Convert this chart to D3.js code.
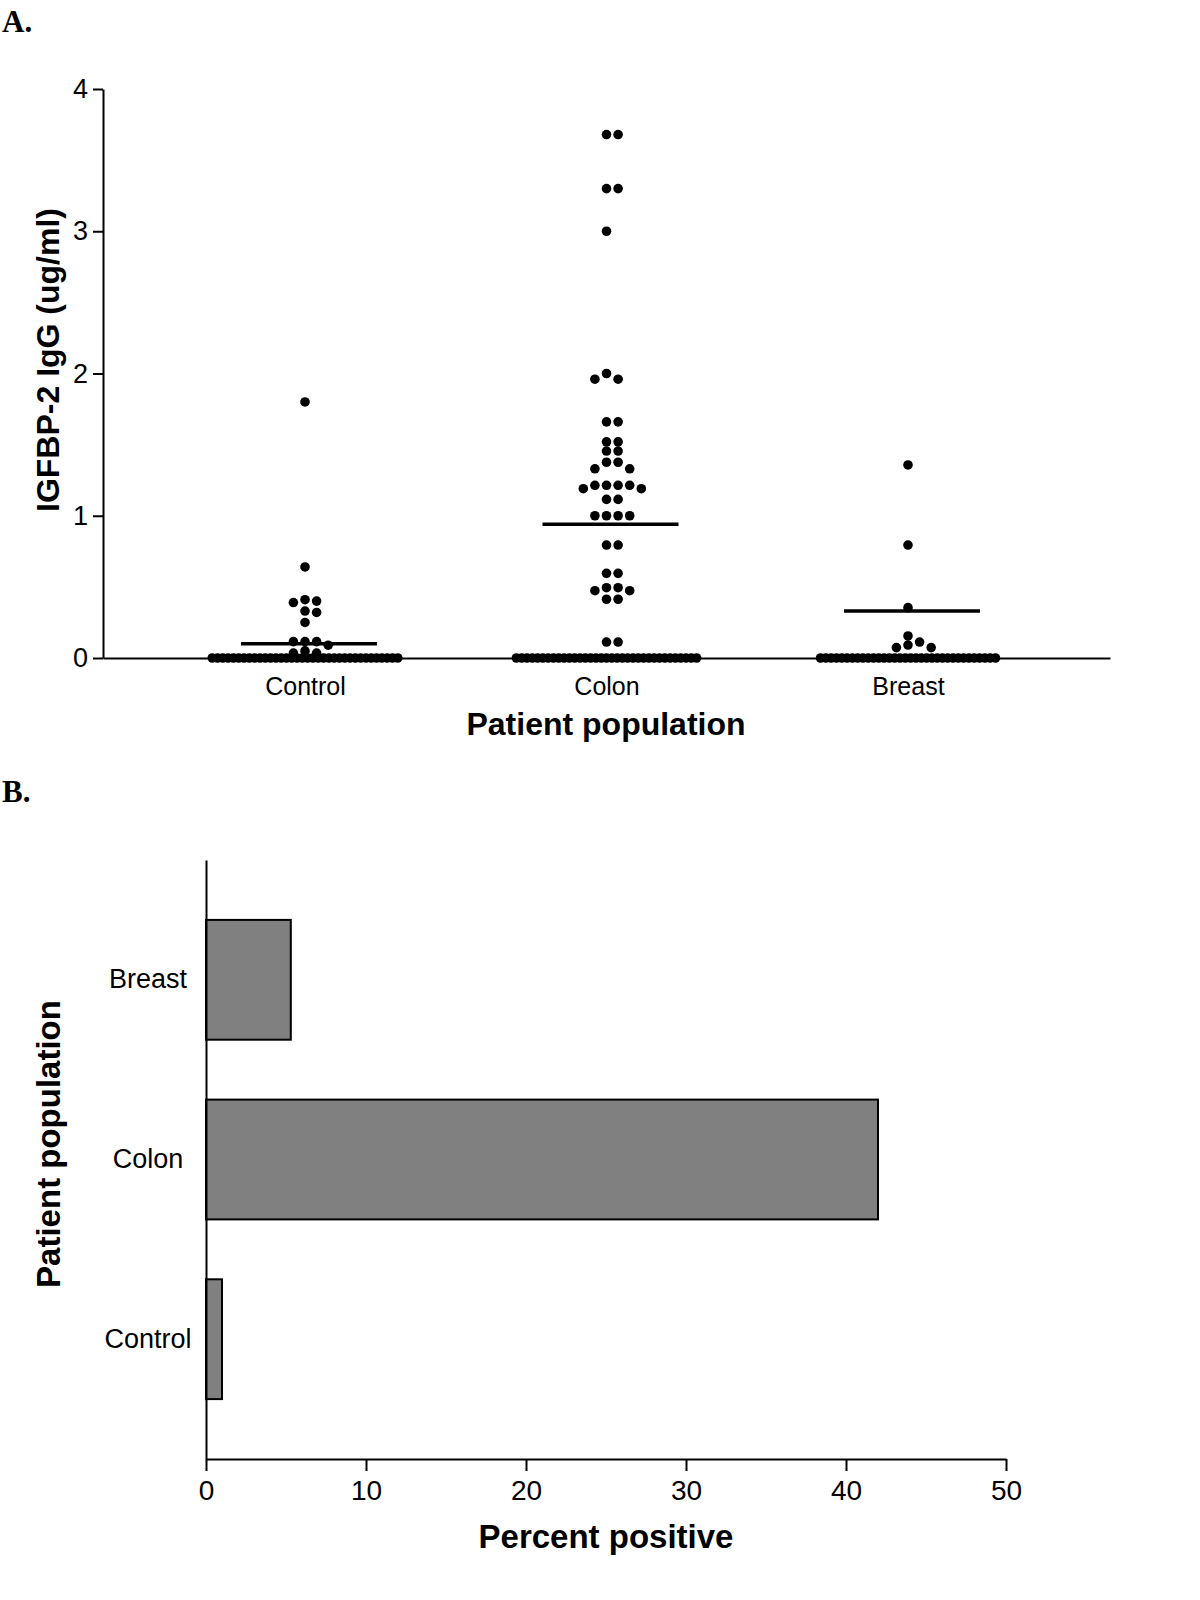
<!DOCTYPE html>
<html>
<head>
<meta charset="utf-8">
<script src="https://cdn.jsdelivr.net/npm/d3@7"></script>
<style>
  body { margin: 0; background: #fff; }
  text { font-family: "Liberation Sans", Arial, sans-serif; fill: #000; }
</style>
</head>
<body>
<div id="chart"></div>
<script>
// Panel A data: IGFBP-2 IgG (ug/ml), non-zero values per group, plus count of zeros
var groups = ["Control", "Colon", "Breast"];
var controlValues = [1.80, 0.64, 0.41, 0.40, 0.39, 0.33, 0.32, 0.25, 0.115, 0.115, 0.115, 0.09, 0.05, 0.035, 0.035];
var colonValues = [3.68, 3.68, 3.30, 3.30, 3.00, 2.00, 1.96, 1.96, 1.66, 1.66, 1.52, 1.52, 1.455, 1.455,
  1.376, 1.376, 1.33, 1.33, 1.214, 1.214, 1.214, 1.214, 1.19, 1.19, 1.115, 1.115,
  1.00, 1.00, 1.00, 1.00, 0.794, 0.794, 0.595, 0.595, 0.494, 0.494, 0.473, 0.473, 0.413, 0.413, 0.112, 0.112];
var breastValues = [1.357, 0.794, 0.354, 0.155, 0.112, 0.091, 0.073, 0.073];
var zeroCounts = [36, 35, 34];
var groupMeans = [0.10, 0.94, 0.33];
var yTicksA = [0, 1, 2, 3, 4];

// Panel B data: percent positive
var barCategories = ["Breast", "Colon", "Control"];
var percentPositive = [5.3, 42.0, 1.0];
var xTicksB = [0, 10, 20, 30, 40, 50];

var svg = d3.select("#chart")
  .append("svg")
  .attr("width", 1200)
  .attr("height", 1600);

svg.append("rect").attr("width", 1200).attr("height", 1600).attr("fill", "#fff");

// ---------- Panel A ----------
var dotR = 4.8;
var slotStep = 11.6;
var zeroStep = 5.3;

var yA = d3.scaleLinear().domain([0, 4]).range([658, 89]);
var xA = d3.scalePoint().domain(groups).range([103, 1110]).padding(0.67);

svg.append("text")
  .attr("x", 2).attr("y", 32)
  .style("font-family", "'Liberation Serif', 'Times New Roman', serif")
  .style("font-weight", "bold")
  .style("font-size", "31px")
  .text("A.");

var yAxisA = svg.append("g")
  .attr("transform", "translate(103,0)")
  .call(d3.axisLeft(yA).tickValues(yTicksA).tickFormat(d3.format("d"))
    .tickSize(10).tickSizeOuter(0).tickPadding(5));
yAxisA.selectAll("path, line").attr("stroke-width", 2);
yAxisA.selectAll("text").style("font-size", "27px");

var xAxisA = svg.append("g")
  .attr("transform", "translate(0,658)")
  .call(d3.axisBottom(xA).tickSize(0).tickSizeOuter(0).tickPadding(19));
xAxisA.selectAll("path").attr("stroke-width", 2);
xAxisA.selectAll("text").style("font-size", "25px");

svg.append("text")
  .attr("x", 606).attr("y", 735)
  .attr("text-anchor", "middle")
  .style("font-weight", "bold")
  .style("font-size", "32px")
  .text("Patient population");

svg.append("text")
  .attr("transform", "translate(59,360) rotate(-90)")
  .attr("text-anchor", "middle")
  .style("font-weight", "bold")
  .style("font-size", "32px")
  .text("IGFBP-2 IgG (ug/ml)");

// simple column scatter: each dot takes the slot closest to the centre that is free
function swarm(values, cx) {
  var placed = [];
  values.slice().sort(d3.descending).forEach(function (v) {
    var y = yA(v);
    for (var k = 0; k < 60; k++) {
      var slot = k === 0 ? 0 : (k % 2 ? (k + 1) / 2 : -k / 2);
      var free = placed.every(function (p) {
        return p.slot !== slot || Math.abs(p.y - y) >= 8;
      });
      if (free) {
        placed.push({ slot: slot, x: cx + slot * slotStep, y: y, v: v });
        break;
      }
    }
  });
  return placed;
}

var valueSets = [controlValues, colonValues, breastValues];
var dots = [];
groups.forEach(function (g, i) {
  var cx = xA(g);
  var n = zeroCounts[i];
  d3.range(n).forEach(function (j) {
    dots.push({ x: cx + (j - (n - 1) / 2) * zeroStep, y: yA(0) });
  });
  dots = dots.concat(swarm(valueSets[i], cx));
});

svg.append("g")
  .selectAll("circle")
  .data(dots)
  .enter()
  .append("circle")
  .attr("cx", d => d.x)
  .attr("cy", d => d.y)
  .attr("r", dotR)
  .attr("fill", "#000");

svg.append("g")
  .selectAll("line")
  .data(groups)
  .enter()
  .append("line")
  .attr("x1", d => xA(d) - 64)
  .attr("x2", d => xA(d) + 72)
  .attr("y1", (d, i) => yA(groupMeans[i]))
  .attr("y2", (d, i) => yA(groupMeans[i]))
  .attr("stroke", "#000")
  .attr("stroke-width", 3.5);

// ---------- Panel B ----------
svg.append("text")
  .attr("x", 2).attr("y", 802)
  .style("font-family", "'Liberation Serif', 'Times New Roman', serif")
  .style("font-weight", "bold")
  .style("font-size", "31px")
  .text("B.");

var xB = d3.scaleLinear().domain([0, 50]).range([206, 1006]);
var yB = d3.scaleBand().domain(barCategories).range([860, 1459]).padding(1 / 3);

svg.append("g")
  .selectAll("rect")
  .data(barCategories)
  .enter()
  .append("rect")
  .attr("x", xB(0))
  .attr("y", d => yB(d))
  .attr("width", (d, i) => xB(percentPositive[i]) - xB(0))
  .attr("height", yB.bandwidth())
  .attr("fill", "#808080")
  .attr("stroke", "#000")
  .attr("stroke-width", 2);

var xAxisB = svg.append("g")
  .attr("transform", "translate(0,1459)")
  .call(d3.axisBottom(xB).tickValues(xTicksB).tickSize(12).tickSizeOuter(0).tickPadding(9));
xAxisB.selectAll("path, line").attr("stroke-width", 2);
xAxisB.selectAll("text").style("font-size", "28px");

var yAxisB = svg.append("g")
  .attr("transform", "translate(206,0)")
  .call(d3.axisLeft(yB).tickSize(0).tickSizeOuter(0));
yAxisB.selectAll("path").attr("stroke-width", 2);
yAxisB.selectAll("text")
  .attr("x", -58)
  .attr("text-anchor", "middle")
  .style("font-size", "27px");

svg.append("text")
  .attr("x", 606).attr("y", 1548)
  .attr("text-anchor", "middle")
  .style("font-weight", "bold")
  .style("font-size", "33px")
  .text("Percent positive");

svg.append("text")
  .attr("transform", "translate(60,1144) rotate(-90)")
  .attr("text-anchor", "middle")
  .style("font-weight", "bold")
  .style("font-size", "33px")
  .text("Patient population");
</script>
</body>
</html>
